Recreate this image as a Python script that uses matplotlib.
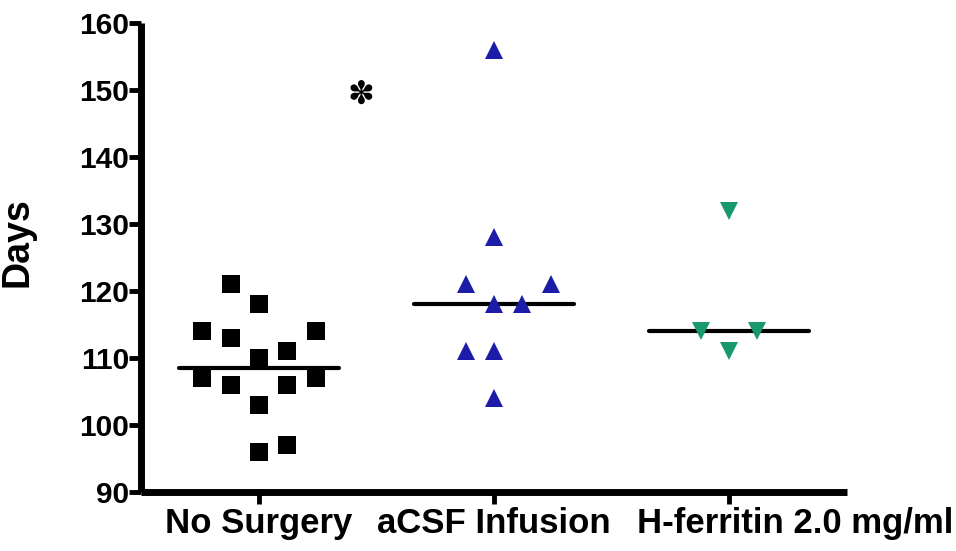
import numpy as np
import matplotlib.pyplot as plt
from matplotlib.transforms import ScaledTranslation

# data
groups = ["No Surgery", "aCSF Infusion", "H-ferritin 2.0 mg/ml"]

no_surgery = [121, 118, 114, 113, 114, 110, 111, 107, 106, 106, 107, 103, 96, 97]
no_surgery_slot = [-1, 0, -2, -1, 2, 0, 1, -2, -1, 1, 2, 0, 0, 1]

acsf = [156, 128, 121, 121, 118, 118, 111, 111, 104]
acsf_slot = [0, 0, -1, 2, 0, 1, -1, 0, 0]

hferritin = [132, 114, 114, 111]
hferritin_slot = [0, -1, 1, 0]

yticks = [90, 100, 110, 120, 130, 140, 150, 160]

plt.rcParams['font.family'] = ['Liberation Sans', 'DejaVu Sans']
plt.rcParams['font.weight'] = 'bold'

fig = plt.figure(figsize=(9.56, 5.51), dpi=100)
ax = fig.add_axes([0.148, 0.1071, 0.7375, 0.8512])

step = 0.121
series = [
    (no_surgery, no_surgery_slot, 's', 'black'),
    (acsf, acsf_slot, '^', '#1c1ca8'),
    (hferritin, hferritin_slot, 'v', '#17996b'),
]
for i, (vals, slots, mk, col) in enumerate(series):
    xs = i + np.array(slots) * step
    ax.plot(xs, vals, linestyle='none', marker=mk, markersize=13.5,
            color=col, markeredgewidth=0, zorder=3)
    med = np.median(vals)
    ax.plot([i - 0.34, i + 0.34], [med, med], color='black', lw=3,
            solid_capstyle='round', zorder=2)

# significance mark
ax.text(0.435, 149.2, '\u273d', fontsize=23, ha='center', va='center',
        family='DejaVu Sans', fontweight='normal')

ax.set_xlim(-0.5, 2.5)
ax.set_ylim(90, 160)
ax.set_xticks(range(len(groups)))
ax.set_xticklabels(groups, fontsize=25, fontweight='bold')
ax.set_yticks(yticks)
ax.set_yticklabels([str(t) for t in yticks], fontsize=21.5, fontweight='bold')
ax.set_ylabel('Days', fontsize=27, fontweight='bold')
ax.yaxis.set_label_coords(-0.15, 0.533)

for s in ['top', 'right']:
    ax.spines[s].set_visible(False)
for s in ['left', 'bottom']:
    ax.spines[s].set_linewidth(5)
    ax.spines[s].set_capstyle('butt')
ax.tick_params(axis='both', length=8.5, width=3.5, pad=0.5)
ax.tick_params(axis='x', pad=2)

# last label runs off to the right in the original
lab = ax.get_xticklabels()[2]
lab.set_horizontalalignment('left')
lab.set_transform(lab.get_transform() + ScaledTranslation(-0.92, 0, fig.dpi_scale_trans))

fig.savefig('out.png', dpi=100)
